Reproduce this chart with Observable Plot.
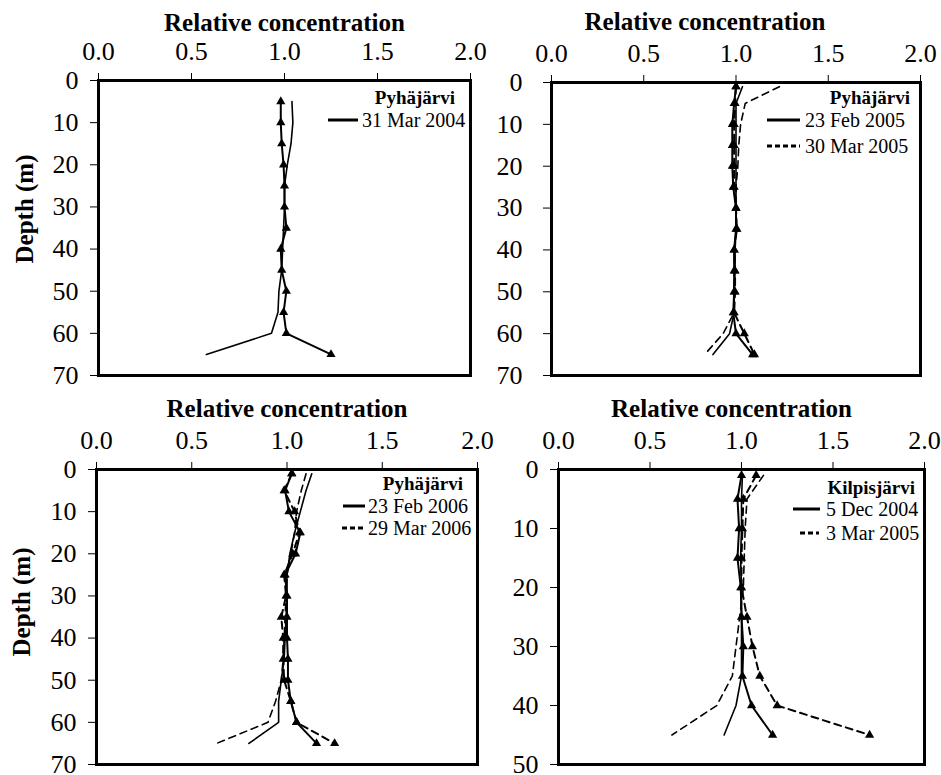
<!DOCTYPE html>
<html><head><meta charset="utf-8">
<script src="https://cdn.jsdelivr.net/npm/d3@7"></script>
<script src="https://cdn.jsdelivr.net/npm/@observablehq/plot@0.6"></script>
<style>
body{margin:0;background:#fff;}
#wrap{position:relative;width:941px;height:775px;background:#fff;font-family:"Liberation Serif","Times New Roman",serif;}
.panel{position:absolute;}
</style></head><body><div id="wrap"></div>
<script>
// ---------- data ----------
const xTicks = [0, 0.5, 1.0, 1.5, 2.0];
const yTicks70 = [0, 10, 20, 30, 40, 50, 60, 70];
const yTicks50 = [0, 10, 20, 30, 40, 50];

const lakeP1 = "Pyhäjärvi", datesP1 = ["31 Mar 2004"];
const depthP1 = [5,10,15,20,25,30,35,40,45,50,55,60,65];
const p1Mar2004Tri  = [0.98,0.98,0.985,0.995,1.0,1.0,1.01,0.98,0.985,1.01,0.995,1.01,1.25];
const p1Mar2004Line = [1.04,1.045,1.035,1.015,1.0,1.0,0.995,0.99,0.985,0.97,0.965,0.93,0.58];

const lakeP2 = "Pyhäjärvi", datesP2 = ["23 Feb 2005", "30 Mar 2005"];
const depthP2 = [1,5,10,15,20,25,30,35,40,45,50,55,60,65];
const p2Feb2005Tri  = [1.0,0.99,0.98,0.98,0.98,0.985,1.0,1.0,0.99,0.99,0.99,0.985,1.0,1.09];
const p2Mar2005Tri  = [1.0,0.995,0.99,0.99,0.99,0.99,1.0,1.005,0.99,0.995,0.995,0.99,1.045,1.1];
const p2Feb2005Line = [1.035,1.0,1.0,1.0,1.0,1.0,1.0,1.0,0.995,0.995,0.99,0.99,0.965,0.875];
const p2Mar2005Line = [1.235,1.05,1.025,1.015,1.01,1.0,1.0,1.0,0.995,0.99,0.99,0.99,0.93,0.83];

const lakeP3 = "Pyhäjärvi", datesP3 = ["23 Feb 2006", "29 Mar 2006"];
const depthP3 = [1,5,10,15,20,25,30,35,40,45,50,55,60,65];
const p3Feb2006Tri  = [1.025,0.99,1.01,1.07,1.045,0.99,1.0,1.0,1.0,1.005,1.005,1.02,1.05,1.155];
const p3Mar2006Tri  = [1.025,0.985,1.04,1.065,1.03,0.985,0.995,0.97,0.98,0.98,0.985,1.02,1.05,1.25];
const p3Feb2006Line = [1.13,1.1,1.07,1.04,1.015,1.0,1.0,0.995,0.99,0.985,0.97,0.956,0.956,0.8];
const p3Mar2006Line = [1.1,1.075,1.05,1.04,1.02,1.0,0.995,0.99,0.985,0.98,0.97,0.94,0.9,0.63];

const lakeP4 = "Kilpisjärvi", datesP4 = ["5 Dec 2004", "3 Mar 2005"];
const depthP4 = [1,5,10,15,20,25,30,35,40,45];
const p4Dec2004Tri  = [1.0,0.978,0.987,0.978,0.996,1.0,1.01,1.005,1.055,1.17];
const p4Mar2005Tri  = [1.08,1.01,1.005,1.0,1.0,1.03,1.06,1.1,1.195,1.7];
const p4Dec2004Line = [1.005,1.0,1.0,0.995,1.0,1.0,1.0,1.0,0.97,0.905];
const p4Mar2005Line = [1.12,1.03,1.02,1.015,1.01,0.99,0.97,0.95,0.865,0.62];

// ---------- panels ----------
const panels = [
  {left:0, top:0, width:475, height:385, mL:98, mR:5, mT:80, mB:10, yMax:70, yTicks:yTicks70, tickPad:12,
   yLabel:true, ylDx:-74, ylDy:-19, tDx:0, tDy:-58,
   lake:lakeP1, dates:datesP1, depths:depthP1,
   series:[{v:p1Mar2004Tri, dash:false, tri:true},{v:p1Mar2004Line, dash:false, tri:false}],
   leg:{lakeX:455, lakeY:97, rows:[{y:120, x1:328, x2:358, tx:362}]}},
  {left:470, top:0, width:471, height:385, mL:81, mR:21, mT:82, mB:10, yMax:70, yTicks:yTicks70, tickPad:21,
   yLabel:false, tDx:-31, tDy:-61,
   lake:lakeP2, dates:datesP2, depths:depthP2,
   series:[{v:p2Feb2005Tri, dash:false, tri:true},{v:p2Mar2005Tri, dash:true, tri:true},
           {v:p2Feb2005Line, dash:false, tri:false},{v:p2Mar2005Line, dash:true, tri:false}],
   leg:{lakeX:440, lakeY:97, rows:[{y:120, x1:297, x2:330, tx:335},{y:146, x1:297, x2:330, tx:335}]}},
  {left:0, top:390, width:482, height:385, mL:96, mR:5, mT:79, mB:11, yMax:70, yTicks:yTicks70, tickPad:12,
   yLabel:true, ylDx:-75, ylDy:-15, tDx:0, tDy:-61,
   lake:lakeP3, dates:datesP3, depths:depthP3,
   series:[{v:p3Feb2006Tri, dash:false, tri:true},{v:p3Mar2006Tri, dash:true, tri:true},
           {v:p3Feb2006Line, dash:false, tri:false},{v:p3Mar2006Line, dash:true, tri:false}],
   leg:{lakeX:463, lakeY:93, rows:[{y:116, x1:343, x2:365, tx:368},{y:138, x1:342, x2:363, tx:368}]}},
  {left:470, top:390, width:471, height:385, mL:88, mR:17, mT:79, mB:11, yMax:50, yTicks:yTicks50, tickPad:12,
   yLabel:false, tDx:-10, tDy:-61,
   lake:lakeP4, dates:datesP4, depths:depthP4,
   series:[{v:p4Dec2004Tri, dash:false, tri:true},{v:p4Mar2005Tri, dash:true, tri:true},
           {v:p4Dec2004Line, dash:false, tri:false},{v:p4Mar2005Line, dash:true, tri:false}],
   leg:{lakeX:445, lakeY:97, rows:[{y:119, x1:323, x2:350, tx:356},{y:143, x1:330, x2:349, tx:356}]}}
];

const wrap = document.getElementById("wrap");
const FONT = "Liberation Serif, Times New Roman, serif";

for (const p of panels) {
  const marks = [];
  p.series.forEach((s, i) => {
    const rows = p.depths.map((d, j) => ({depth: d, value: s.v[j]}));
    marks.push(Plot.line(rows, {x: "value", y: "depth", stroke: "black",
      strokeWidth: s.tri ? 2 : 1.6, strokeDasharray: s.dash ? "7,5" : null}));
    if (s.tri) marks.push(Plot.dot(rows, {x: "value", y: "depth", symbol: "triangle", r: 3.4, fill: "black", stroke: "none"}));
  });
  const chart = Plot.plot({
    width: p.width, height: p.height,
    marginLeft: p.mL, marginRight: p.mR, marginTop: p.mT, marginBottom: p.mB,
    style: {fontFamily: FONT, fontSize: "26px", color: "black", background: "transparent", overflow: "visible"},
    x: {domain: [0, 2]},
    y: {domain: [0, p.yMax], reverse: true},
    marks: [
      Plot.axisX({anchor: "top", ticks: xTicks, tickFormat: d3.format(".1f"), tickSize: 8, tickPadding: 13, fontSize: 26, label: null}),
      Plot.axisY({anchor: "left", ticks: p.yTicks, tickSize: 8, tickPadding: p.tickPad, fontSize: 26, label: null}),
      ...marks,
      Plot.frame({stroke: "black", strokeWidth: 3}),
      Plot.text(["Relative concentration"], {frameAnchor: "top", dx: p.tDx, dy: p.tDy, text: d => d,
        fontWeight: "bold", fontSize: 25, textAnchor: "middle", lineAnchor: "middle"}),
      ...(p.yLabel ? [Plot.text(["Depth (m)"], {frameAnchor: "left", dx: p.ylDx, dy: p.ylDy, text: d => d, rotate: -90,
        fontWeight: "bold", fontSize: 25, textAnchor: "middle", lineAnchor: "middle"})] : [])
    ]
  });
  const div = document.createElement("div");
  div.className = "panel";
  div.style.left = p.left + "px";
  div.style.top = p.top + "px";
  div.appendChild(chart);
  wrap.appendChild(div);

  // legend
  const svg = d3.select(chart);
  const g = svg.append("g").attr("font-family", FONT).attr("fill", "black").attr("text-anchor", "start");
  g.append("text").attr("x", p.leg.lakeX).attr("y", p.leg.lakeY).attr("dy", "0.35em")
    .attr("text-anchor", "end").attr("font-weight", "bold").attr("font-size", 19).text(p.lake);
  p.leg.rows.forEach((r, i) => {
    g.append("line").attr("x1", r.x1).attr("x2", r.x2).attr("y1", r.y).attr("y2", r.y)
      .attr("stroke", "black").attr("stroke-width", 3)
      .attr("stroke-dasharray", i === 1 ? "5,3" : null);
    g.append("text").attr("x", r.tx).attr("y", r.y).attr("dy", "0.35em")
      .attr("text-anchor", "start").attr("font-size", 20).text(p.dates[i]);
  });
}
</script>
</body></html>
